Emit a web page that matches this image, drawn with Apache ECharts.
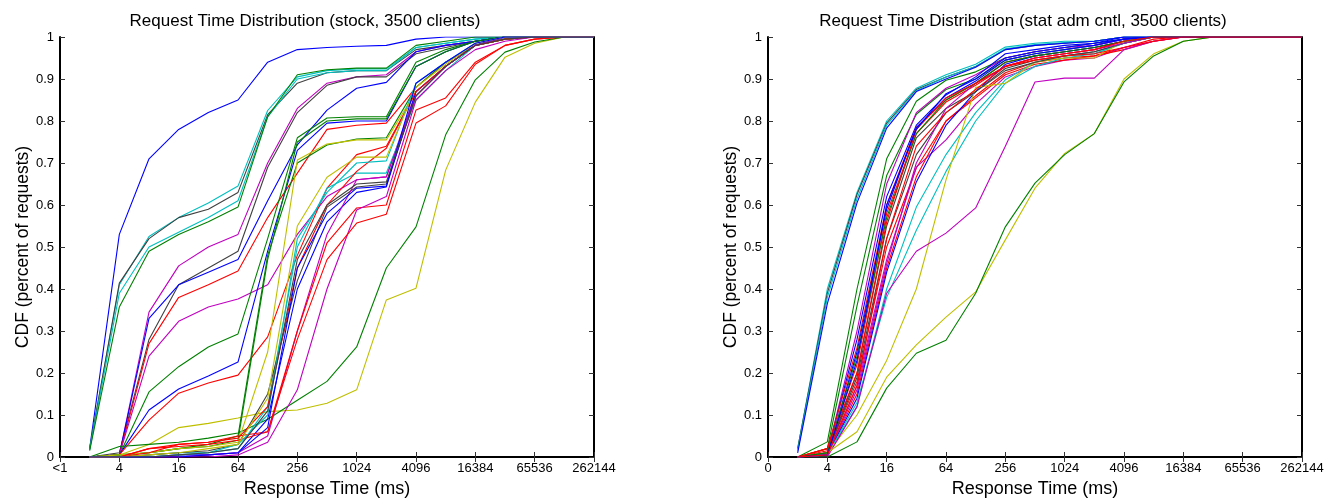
<!DOCTYPE html>
<html><head><meta charset="utf-8">
<script src="https://cdn.jsdelivr.net/npm/echarts@6/dist/echarts.min.js"></script>
<style>html,body{margin:0;padding:0;background:#fff}#c{width:1338px;height:500px}</style>
</head><body><div id="c"></div>
<script>
// x positions (ms) of every sample
const xMs = [2,4,8,16,32,64,128,256,512,1024,2048,4096,8192,16384,32768,65536,131072,262144];
const xTickLabelsLeft = {1:'<1'};
const xTickLabelsRight = {1:'0'};
const titles = ['Request Time Distribution (stock, 3500 clients)', 'Request Time Distribution (stat adm cntl, 3500 clients)'];

// Left panel: stock
const s01 = [0.02,0.53,0.71,0.78,0.82,0.85,0.94,0.97,0.975,0.978,0.98,0.995,1,1,1,1,1,1];
const s02 = [0.02,0.41,0.525,0.57,0.605,0.645,0.825,0.905,0.92,0.924,0.924,0.975,0.985,0.995,1,1,1,1];
const s03 = [0.02,0.414,0.52,0.57,0.59,0.63,0.815,0.89,0.915,0.92,0.92,0.97,0.98,0.99,1,1,1,1];
const s04 = [0.017,0.39,0.50,0.535,0.57,0.61,0.81,0.90,0.915,0.92,0.92,0.975,0.985,0.995,1,1,1,1];
const s05 = [0.015,0.357,0.49,0.53,0.56,0.595,0.81,0.91,0.922,0.926,0.926,0.98,0.99,1,1,1,1,1];
const s06 = [0,0.005,0.345,0.455,0.50,0.53,0.70,0.83,0.89,0.905,0.91,0.965,0.98,0.99,1,1,1,1];
const s07 = [0,0.01,0.28,0.41,0.45,0.49,0.69,0.82,0.885,0.905,0.905,0.96,0.975,0.99,1,1,1,1];
const s08 = [0,0.005,0.33,0.41,0.44,0.47,0.61,0.743,0.826,0.878,0.892,0.965,0.98,0.99,1,1,1,1];
const s09 = [0,0.005,0.27,0.38,0.41,0.443,0.57,0.676,0.78,0.79,0.795,0.88,0.94,0.98,0.995,1,1,1];
const s10 = [0,0.005,0.24,0.323,0.357,0.376,0.41,0.53,0.62,0.66,0.667,0.87,0.93,0.98,0.995,1,1,1];
const s11 = [0,0.005,0.155,0.215,0.262,0.293,0.52,0.76,0.807,0.81,0.81,0.94,0.97,0.99,1,1,1,1];
const s12 = [0,0.005,0.112,0.162,0.193,0.226,0.49,0.73,0.795,0.80,0.80,0.93,0.965,0.99,1,1,1,1];
const s13 = [0,0.005,0.088,0.152,0.176,0.195,0.286,0.48,0.64,0.72,0.74,0.87,0.93,0.98,0.995,1,1,1];
const s14 = [0,0.005,0.03,0.07,0.08,0.093,0.108,0.112,0.128,0.16,0.374,0.402,0.683,0.845,0.952,0.985,1,1];
const s15 = [0,0.025,0.03,0.035,0.045,0.057,0.09,0.135,0.18,0.262,0.45,0.548,0.767,0.898,0.964,0.988,1,1];
const s16 = [0,0.005,0.01,0.02,0.03,0.05,0.48,0.70,0.743,0.757,0.76,0.88,0.94,0.98,0.995,1,1,1];
const s17 = [0,0.005,0.01,0.02,0.025,0.04,0.47,0.75,0.80,0.805,0.805,0.93,0.965,0.99,1,1,1,1];
const s18 = [0,0.005,0.01,0.02,0.025,0.035,0.25,0.707,0.745,0.755,0.755,0.87,0.93,0.98,0.995,1,1,1];
const s19 = [0,0,0.005,0.01,0.01,0.02,0.12,0.50,0.64,0.676,0.676,0.85,0.92,0.98,1,1,1,1];
const s20 = [0,0,0.005,0.01,0.015,0.03,0.15,0.42,0.595,0.643,0.65,0.86,0.93,0.98,1,1,1,1];
const s21 = [0,0,0,0.005,0.005,0.01,0.09,0.40,0.56,0.63,0.643,0.87,0.93,0.98,1,1,1,1];
const s22 = [0,0,0.01,0.03,0.035,0.045,0.12,0.45,0.60,0.68,0.735,0.87,0.93,0.98,0.995,1,1,1];
const s23 = [0,0,0,0,0.005,0.01,0.05,0.30,0.53,0.66,0.667,0.86,0.93,0.98,1,1,1,1];
const s24 = [0,0,0.02,0.025,0.03,0.04,0.06,0.30,0.51,0.593,0.60,0.826,0.855,0.94,0.98,0.995,1,1];
const s25 = [0,0,0,0,0,0.005,0.035,0.16,0.40,0.588,0.62,0.85,0.92,0.97,0.99,1,1,1];
const s26 = [0,0,0.02,0.03,0.035,0.05,0.06,0.28,0.47,0.557,0.578,0.795,0.836,0.935,0.98,0.995,1,1];
const s27 = [0,0,0,0.005,0.01,0.03,0.10,0.52,0.63,0.70,0.705,0.89,0.94,0.985,1,1,1,1];
const s28 = [0,0,0.005,0.01,0.02,0.03,0.14,0.55,0.666,0.714,0.714,0.88,0.935,0.985,1,1,1,1];
const s29 = [0,0,0,0,0.005,0.01,0.07,0.45,0.58,0.64,0.645,0.89,0.94,0.985,1,1,1,1];
const s30 = [0,0,0,0.005,0.01,0.02,0.11,0.47,0.60,0.65,0.655,0.86,0.93,0.98,0.995,1,1,1];
const stockLines = [s01,s02,s03,s04,s05,s06,s07,s08,s09,s10,s11,s12,s13,s14,s15,s16,s17,s18,s19,s20,s21,s22,s23,s24,s25,s26,s27,s28,s29,s30];
const stockColors = ['b','c','k','c','g','m','k','b','r','m','g','b','r','y','g','g','g','y','c','k','b','r','m','r','m','r','c','y','b','k'];

// Right panel: stat adm cntl
const t01 = [0.02,0.40,0.63,0.80,0.878,0.91,0.935,0.976,0.985,0.99,0.99,1,1,1,1,1,1,1];
const t02 = [0.02,0.39,0.625,0.795,0.875,0.905,0.93,0.97,0.98,0.985,0.99,1,1,1,1,1,1,1];
const t03 = [0.015,0.38,0.615,0.79,0.872,0.905,0.93,0.972,0.982,0.987,0.99,1,1,1,1,1,1,1];
const t04 = [0.01,0.365,0.605,0.783,0.87,0.90,0.928,0.97,0.98,0.985,0.99,1,1,1,1,1,1,1];
const t05 = [0,0.036,0.40,0.71,0.847,0.897,0.917,0.95,0.965,0.975,0.985,0.995,1,1,1,1,1,1];
const t06 = [0,0.02,0.36,0.67,0.816,0.875,0.90,0.945,0.96,0.97,0.98,0.995,1,1,1,1,1,1];
const t07 = [0,0.01,0.30,0.65,0.82,0.878,0.91,0.95,0.965,0.975,0.98,0.995,1,1,1,1,1,1];
const t08 = [0,0.01,0.28,0.62,0.79,0.862,0.905,0.96,0.97,0.98,0.985,1,1,1,1,1,1,1];
const t09 = [0,0.02,0.26,0.60,0.785,0.85,0.89,0.94,0.955,0.965,0.975,0.99,1,1,1,1,1,1];
const t10 = [0,0.005,0.25,0.59,0.784,0.855,0.895,0.945,0.96,0.97,0.98,0.995,1,1,1,1,1,1];
const t11 = [0,0.015,0.22,0.58,0.77,0.845,0.885,0.93,0.95,0.96,0.97,0.99,1,1,1,1,1,1];
const t12 = [0,0.01,0.20,0.55,0.76,0.83,0.87,0.925,0.945,0.955,0.965,0.985,1,1,1,1,1,1];
const t13 = [0,0.01,0.18,0.50,0.688,0.80,0.86,0.915,0.94,0.95,0.955,0.975,0.995,1,1,1,1,1];
const t14 = [0,0.005,0.17,0.47,0.69,0.755,0.84,0.905,0.93,0.945,0.95,0.975,0.99,1,1,1,1,1];
const t15 = [0,0.005,0.15,0.45,0.667,0.80,0.855,0.91,0.935,0.945,0.955,0.97,0.99,1,1,1,1,1];
const t16 = [0,0.005,0.14,0.44,0.655,0.79,0.87,0.935,0.955,0.965,0.975,0.99,1,1,1,1,1,1];
const t17 = [0,0.005,0.12,0.40,0.595,0.72,0.82,0.898,0.94,0.955,0.96,0.985,1,1,1,1,1,1];
const t18 = [0,0.005,0.13,0.38,0.54,0.68,0.80,0.89,0.93,0.95,0.96,0.985,1,1,1,1,1,1];
const t19 = [0,0.01,0.10,0.23,0.40,0.66,0.88,0.89,0.94,0.95,0.95,0.99,1,1,1,1,1,1];
const t20 = [0,0,0.12,0.39,0.49,0.533,0.593,0.74,0.893,0.902,0.902,0.97,0.99,1,1,1,1,1];
const t21 = [0,0.01,0.06,0.19,0.267,0.333,0.393,0.517,0.64,0.723,0.77,0.90,0.96,0.99,1,1,1,1];
const t22 = [0,0,0.036,0.164,0.247,0.278,0.39,0.548,0.652,0.72,0.77,0.893,0.955,0.99,1,1,1,1];
const t23 = [0,0.01,0.19,0.52,0.72,0.82,0.87,0.92,0.94,0.955,0.965,0.985,1,1,1,1,1,1];
const t24 = [0,0.005,0.16,0.46,0.70,0.83,0.89,0.93,0.95,0.96,0.97,0.985,1,1,1,1,1,1];
const t25 = [0,0.01,0.24,0.57,0.77,0.85,0.89,0.94,0.955,0.965,0.975,0.99,1,1,1,1,1,1];
const t26 = [0,0.02,0.20,0.56,0.78,0.855,0.89,0.93,0.945,0.955,0.96,0.975,0.99,1,1,1,1,1];
const t27 = [0,0.005,0.23,0.60,0.78,0.865,0.90,0.95,0.965,0.975,0.985,0.995,1,1,1,1,1,1];
const t28 = [0,0.005,0.17,0.52,0.74,0.82,0.875,0.93,0.95,0.96,0.97,0.99,1,1,1,1,1,1];
const admLines = [t01,t02,t03,t04,t05,t06,t07,t08,t09,t10,t11,t12,t13,t14,t15,t16,t17,t18,t19,t20,t21,t22,t23,t24,t25,t26,t27,t28];
const admColors = ['c','k','c','b','g','g','m','b','r','b','r','k','r','m','r','b','c','c','y','m','y','g','k','m','g','r','b','r'];

const palette = {b:'#0000FF', g:'#008000', r:'#FF0000', c:'#00BFBF', m:'#BF00BF', y:'#BFBF00', k:'#404040'};
const FONT = 'Liberation Sans, Arial, Helvetica, sans-serif';

function xAxes(gi, labels) {
  const common = {type:'log', logBase:4, min:1, max:262144, splitNumber:9, gridIndex:gi,
    axisLine:{lineStyle:{color:'#000', width:2}}, splitLine:{show:false}, minorTick:{show:false},
    axisTick:{inside:true, length:5, lineStyle:{color:'#333', width:1}}};
  return [
    Object.assign({}, common, {position:'bottom',
      axisLabel:{color:'#000', fontSize:13, fontFamily:FONT, margin:5,
        formatter: v => { const r = Math.round(v); return labels[r] !== undefined ? labels[r] : String(r); }},
      name:'Response Time (ms)', nameLocation:'middle', nameGap:23,
      nameTextStyle:{color:'#000', fontSize:18, fontFamily:FONT}}),
    Object.assign({}, common, {position:'top', axisLabel:{show:false}})
  ];
}
function yAxes(gi) {
  const common = {type:'value', min:0, max:1, interval:0.1, gridIndex:gi,
    axisLine:{show:true, lineStyle:{color:'#000', width:2}}, splitLine:{show:false},
    axisTick:{show:true, inside:true, length:5, lineStyle:{color:'#333', width:1}}};
  return [
    Object.assign({}, common, {position:'left',
      axisLabel:{color:'#000', fontSize:13, fontFamily:FONT, margin:6,
        formatter: v => (Math.round(v*10)/10).toString()},
      name:'CDF (percent of requests)', nameLocation:'middle', nameGap:28, nameRotate:90,
      nameTextStyle:{color:'#000', fontSize:17.5, fontFamily:FONT}}),
    Object.assign({}, common, {position:'right', axisLabel:{show:false}})
  ];
}

const series = [];
stockLines.forEach((arr, i) => series.push({type:'line', xAxisIndex:0, yAxisIndex:0,
  data: xMs.map((x, j) => [x, arr[j]]), showSymbol:false, symbol:'none', silent:true,
  lineStyle:{width:1.1, color:palette[stockColors[i]]}}));
admLines.forEach((arr, i) => series.push({type:'line', xAxisIndex:2, yAxisIndex:2,
  data: xMs.map((x, j) => [x, arr[j]]), showSymbol:false, symbol:'none', silent:true,
  lineStyle:{width:1.1, color:palette[admColors[i]]}}));

const chart = echarts.init(document.getElementById('c'), null, {renderer:'canvas'});
chart.setOption({
  animation:false,
  backgroundColor:'#fff',
  title:[
    {text:titles[0], left:300, top:8, textAlign:'center', textStyle:{fontSize:17, fontWeight:'normal', color:'#000', fontFamily:FONT}},
    {text:titles[1], left:1018, top:8, textAlign:'center', textStyle:{fontSize:17, fontWeight:'normal', color:'#000', fontFamily:FONT}}
  ],
  grid:[{left:60, top:37, width:534, height:420, containLabel:false, outerBoundsMode:'none'},
        {left:768, top:37, width:534, height:420, containLabel:false, outerBoundsMode:'none'}],
  xAxis:[...xAxes(0, xTickLabelsLeft), ...xAxes(1, xTickLabelsRight)],
  yAxis:[...yAxes(0), ...yAxes(1)],
  series: series
});
</script></body></html>
